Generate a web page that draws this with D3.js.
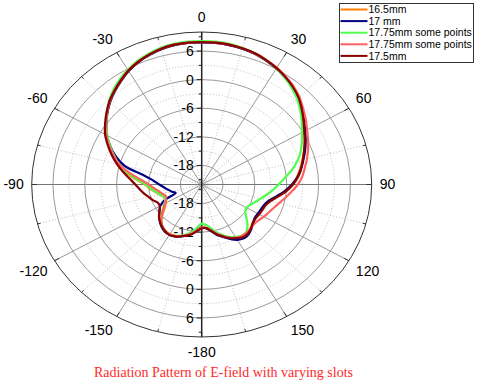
<!DOCTYPE html>
<html>
<head>
<meta charset="utf-8">
<script src="https://d3js.org/d3.v7.min.js"></script>
<style>
  body { margin: 0; background: #fff; }
  svg { display: block; }
</style>
</head>
<body>
<svg id="chart" width="478" height="383"></svg>
<script>
// sampled every 5 degrees, from -180 up to 175
var angles = d3.range(-180, 180, 5);

var s165 = [-12.9, -12.4, -11.6, -11.0, -10.5, -10.1, -10.0, -10.1, -10.5, -11.3, -12.4, -13.5,
    -14.2, -14.6, -14.4, -13.8, -13.1, -12.2, -11.3, -9.6, -7.4, -5.6, -4.3, -2.8,
    -1.3, 0.0, 1.2, 2.4, 3.5, 4.5, 5.5, 6.3, 6.9, 7.4, 7.7, 7.8,
    7.8, 7.8, 7.7, 7.5, 7.2, 6.7, 6.1, 5.4, 4.6, 3.7, 2.5, 1.4,
    0.3, -0.6, -1.5, -2.4, -3.2, -4.0, -5.0, -6.3, -7.7, -8.9, -9.4, -9.6,
    -9.7, -9.7, -9.5, -9.0, -8.6, -8.6, -9.1, -9.7, -10.5, -11.3, -12.3, -12.9];

var s170 = [-13.0, -12.6, -11.8, -11.0, -10.4, -10.0, -9.8, -9.9, -10.3, -10.9, -11.6, -12.3,
    -13.0, -14.3, -16.8, -16.2, -15.6, -14.9, -14.0, -12.9, -10.9, -7.0, -4.8, -3.0,
    -1.4, -0.1, 1.2, 2.4, 3.5, 4.5, 5.5, 6.3, 6.9, 7.4, 7.7, 7.8,
    7.8, 7.8, 7.7, 7.5, 7.2, 6.7, 6.1, 5.4, 4.6, 3.7, 2.6, 1.5,
    0.5, -0.4, -1.3, -2.2, -3.0, -3.9, -5.0, -6.3, -7.7, -8.9, -9.5, -9.7,
    -9.8, -9.8, -9.4, -8.8, -8.3, -8.2, -8.6, -9.4, -10.3, -11.1, -12.1, -12.8];

var s1775a = [-13.8, -13.0, -12.0, -11.2, -10.6, -10.1, -9.9, -10.1, -10.5, -11.2, -12.1, -13.1,
    -13.9, -14.4, -14.4, -13.9, -13.2, -12.4, -11.4, -9.9, -7.8, -5.9, -4.5, -3.0,
    -1.5, -0.1, 1.3, 2.7, 3.9, 4.9, 5.8, 6.6, 7.2, 7.7, 8.0, 8.1,
    8.1, 8.1, 8.0, 7.7, 7.3, 6.8, 6.1, 5.3, 4.4, 3.4, 2.2, 1.0,
    -0.2, -1.2, -2.2, -3.4, -4.8, -6.3, -7.5, -8.6, -9.6, -10.5, -11.3, -11.9,
    -12.3, -12.0, -11.0, -9.8, -9.0, -8.9, -9.3, -9.9, -10.7, -11.7, -12.8, -13.5];

var s1775b = [-13.0, -12.4, -11.6, -11.0, -10.5, -10.1, -9.9, -10.1, -10.5, -11.2, -12.2, -13.2,
    -14.0, -14.6, -14.8, -14.4, -13.8, -13.0, -12.0, -10.5, -8.3, -6.0, -4.4, -2.8,
    -1.3, 0.0, 1.3, 2.5, 3.6, 4.6, 5.6, 6.4, 7.0, 7.5, 7.8, 7.9,
    7.9, 7.9, 7.8, 7.6, 7.3, 6.8, 6.3, 5.6, 4.9, 4.0, 2.9, 1.9,
    0.9, 0.1, -0.7, -1.5, -2.3, -3.0, -3.9, -5.0, -6.0, -6.9, -7.6, -8.1,
    -8.5, -8.9, -9.1, -9.0, -8.8, -8.8, -9.1, -9.7, -10.5, -11.3, -12.3, -12.9];

var s175 = [-12.8, -12.2, -11.4, -10.9, -10.4, -10.0, -9.8, -10.0, -10.4, -10.9, -11.5, -12.3,
    -12.9, -12.9, -12.3, -11.7, -11.0, -10.3, -9.5, -8.4, -7.0, -5.5, -4.0, -2.5,
    -1.0, 0.2, 1.4, 2.6, 3.6, 4.6, 5.6, 6.4, 7.0, 7.5, 7.8, 7.9,
    7.9, 7.9, 7.8, 7.6, 7.3, 6.8, 6.2, 5.5, 4.7, 3.8, 2.6, 1.4,
    0.3, -0.6, -1.5, -2.3, -3.0, -3.8, -4.8, -6.0, -7.4, -8.6, -9.2, -9.4,
    -9.5, -9.6, -9.4, -8.9, -8.5, -8.5, -9.0, -9.6, -10.4, -11.2, -12.2, -12.8];

var seriesNames = ["16.5mm", "17 mm", "17.75mm some points", "17.75mm some points", "17.5mm"];
var seriesColors = ["#ff8000", "#000080", "#4dff4d", "#ff6060", "#8b0000"];
var seriesValues = [s165, s170, s1775a, s1775b, s175];

var radialTicks = [-18, -12, -6, 0, 6];
var radialMinor = [-21, -15, -9, -3, 3, 9];
var angleTicks = [0, 30, 60, 90, 120, 150, 180, -150, -120, -90, -60, -30];
var angleLabels = ["0", "30", "60", "90", "120", "150", "-180", "-150", "-120", "-90", "-60", "-30"];
var angleMinor = [15, 45, 75, 105, 135, 165, -165, -135, -105, -75, -45, -15];

var svg = d3.select("#chart");
var cx = 201.7, cy = 184.5, rx = 170, ry = 152.5;

var r = d3.scaleLinear().domain([-22, 10]).range([0, 1]);
var a = d3.scaleLinear().domain([0, 360]).range([0, 2 * Math.PI]);

var px = function(deg, db) { return cx + rx * r(db) * Math.sin(a(deg)); };
var py = function(deg, db) { return cy - ry * r(db) * Math.cos(a(deg)); };

// grid circles
svg.append("g").selectAll("ellipse")
    .data(radialMinor.slice(0, 5))
  .enter().append("ellipse")
    .attr("cx", cx).attr("cy", cy)
    .attr("rx", function(d) { return rx * r(d); })
    .attr("ry", function(d) { return ry * r(d); })
    .attr("fill", "none")
    .attr("stroke", "#bdbdbd")
    .attr("stroke-dasharray", "1,2");

svg.append("g").selectAll("ellipse")
    .data(radialTicks)
  .enter().append("ellipse")
    .attr("cx", cx).attr("cy", cy)
    .attr("rx", function(d) { return rx * r(d); })
    .attr("ry", function(d) { return ry * r(d); })
    .attr("fill", "none")
    .attr("stroke", "#9a9a9a");

// spokes
svg.append("g").selectAll("line")
    .data(angleMinor)
  .enter().append("line")
    .attr("x1", function(d) { return px(d, -22); })
    .attr("y1", function(d) { return py(d, -22); })
    .attr("x2", function(d) { return px(d, 10); })
    .attr("y2", function(d) { return py(d, 10); })
    .attr("stroke", "#bdbdbd")
    .attr("stroke-dasharray", "1,2");

svg.append("g").selectAll("line")
    .data(angleTicks.filter(function(d) { return d % 180 !== 0; }))
  .enter().append("line")
    .attr("x1", cx).attr("y1", cy)
    .attr("x2", function(d) { return px(d, 10); })
    .attr("y2", function(d) { return py(d, 10); })
    .attr("stroke", function(d) { return Math.abs(d) === 90 ? "#777" : "#9a9a9a"; });

// outer ring with ticks
svg.append("ellipse")
    .attr("cx", cx).attr("cy", cy)
    .attr("rx", rx).attr("ry", ry)
    .attr("fill", "none")
    .attr("stroke", "#333");

svg.append("g").selectAll("line")
    .data(angleTicks.concat(angleMinor))
  .enter().append("line")
    .attr("x1", function(d) { return px(d, 10); })
    .attr("y1", function(d) { return py(d, 10); })
    .attr("x2", function(d) { return px(d, angleTicks.indexOf(d) >= 0 ? 9 : 9.4); })
    .attr("y2", function(d) { return py(d, angleTicks.indexOf(d) >= 0 ? 9 : 9.4); })
    .attr("stroke", "#333");

// radial axis along 0 / 180
svg.append("line")
    .attr("x1", cx).attr("y1", cy - ry)
    .attr("x2", cx).attr("y2", cy + ry)
    .attr("stroke", "#222")
    .attr("stroke-width", 1.5);

var sides = [1, -1];
sides.forEach(function(s) {
    svg.append("g").selectAll("line")
        .data(radialTicks)
      .enter().append("line")
        .attr("x1", cx - 5).attr("x2", cx)
        .attr("y1", function(d) { return cy - s * ry * r(d); })
        .attr("y2", function(d) { return cy - s * ry * r(d); })
        .attr("stroke", "#222");
    svg.append("g").selectAll("line")
        .data(radialMinor)
      .enter().append("line")
        .attr("x1", cx - 3).attr("x2", cx)
        .attr("y1", function(d) { return cy - s * ry * r(d); })
        .attr("y2", function(d) { return cy - s * ry * r(d); })
        .attr("stroke", "#222");
    svg.append("g").selectAll("text")
        .data(radialTicks)
      .enter().append("text")
        .attr("x", cx - 8)
        .attr("y", function(d) { return cy - s * ry * r(d); })
        .attr("dy", "0.35em")
        .attr("text-anchor", "end")
        .attr("font-family", "Liberation Sans, Arial, sans-serif")
        .attr("font-size", 14)
        .attr("fill", "#000")
        .text(function(d) { return d; });
});

// angle labels
svg.append("g").selectAll("text")
    .data(angleTicks)
  .enter().append("text")
    .attr("x", function(d) { return cx + (rx + 8) * Math.sin(a(d)); })
    .attr("y", function(d) {
        var c = Math.cos(a(d));
        var off = Math.abs(c) < 1e-6 ? 0 : (c > 0 ? -5 : 5);
        return cy - (ry + 10) * c + off;
    })
    .attr("dy", "0.35em")
    .attr("text-anchor", function(d) {
        var sn = Math.sin(a(d));
        if (Math.abs(sn) < 1e-6) return "middle";
        return sn > 0 ? "start" : "end";
    })
    .attr("font-family", "Liberation Sans, Arial, sans-serif")
    .attr("font-size", 14)
    .attr("fill", "#000")
    .text(function(d, i) { return angleLabels[i]; });

// curves
var line = d3.line()
    .x(function(d) { return px(d[0], d[1]); })
    .y(function(d) { return py(d[0], d[1]); })
    .curve(d3.curveCatmullRomClosed.alpha(0.5));

svg.append("g").selectAll("path")
    .data(seriesValues)
  .enter().append("path")
    .attr("d", function(vals) {
        return line(angles.map(function(t, i) { return [t, vals[i]]; }));
    })
    .attr("fill", "none")
    .attr("stroke", function(d, i) { return seriesColors[i]; })
    .attr("stroke-width", 2.2)
    .attr("stroke-linejoin", "round");

// legend
var legend = svg.append("g").attr("transform", "translate(339.5,3.5)");
legend.append("rect")
    .attr("width", 134).attr("height", 59)
    .attr("fill", "#fff")
    .attr("stroke", "#333");

var items = legend.selectAll(".item")
    .data(seriesNames)
  .enter().append("g")
    .attr("class", "item")
    .attr("transform", function(d, i) { return "translate(0," + (6 + i * 11.6) + ")"; });

items.append("line")
    .attr("x1", 1).attr("x2", 28)
    .attr("stroke", function(d, i) { return seriesColors[i]; })
    .attr("stroke-width", 2);

items.append("text")
    .attr("x", 29)
    .attr("dy", "0.35em")
    .attr("font-family", "Liberation Sans, Arial, sans-serif")
    .attr("font-size", 10.5)
    .attr("fill", "#000")
    .text(function(d) { return d; });

// caption
svg.append("text")
    .attr("x", 223.5).attr("y", 376.5)
    .attr("text-anchor", "middle")
    .attr("font-family", "Liberation Serif, Times New Roman, serif")
    .attr("font-size", 14)
    .attr("fill", "#ff2a2a")
    .text("Radiation Pattern of E-field with varying slots");
</script>
</body>
</html>
